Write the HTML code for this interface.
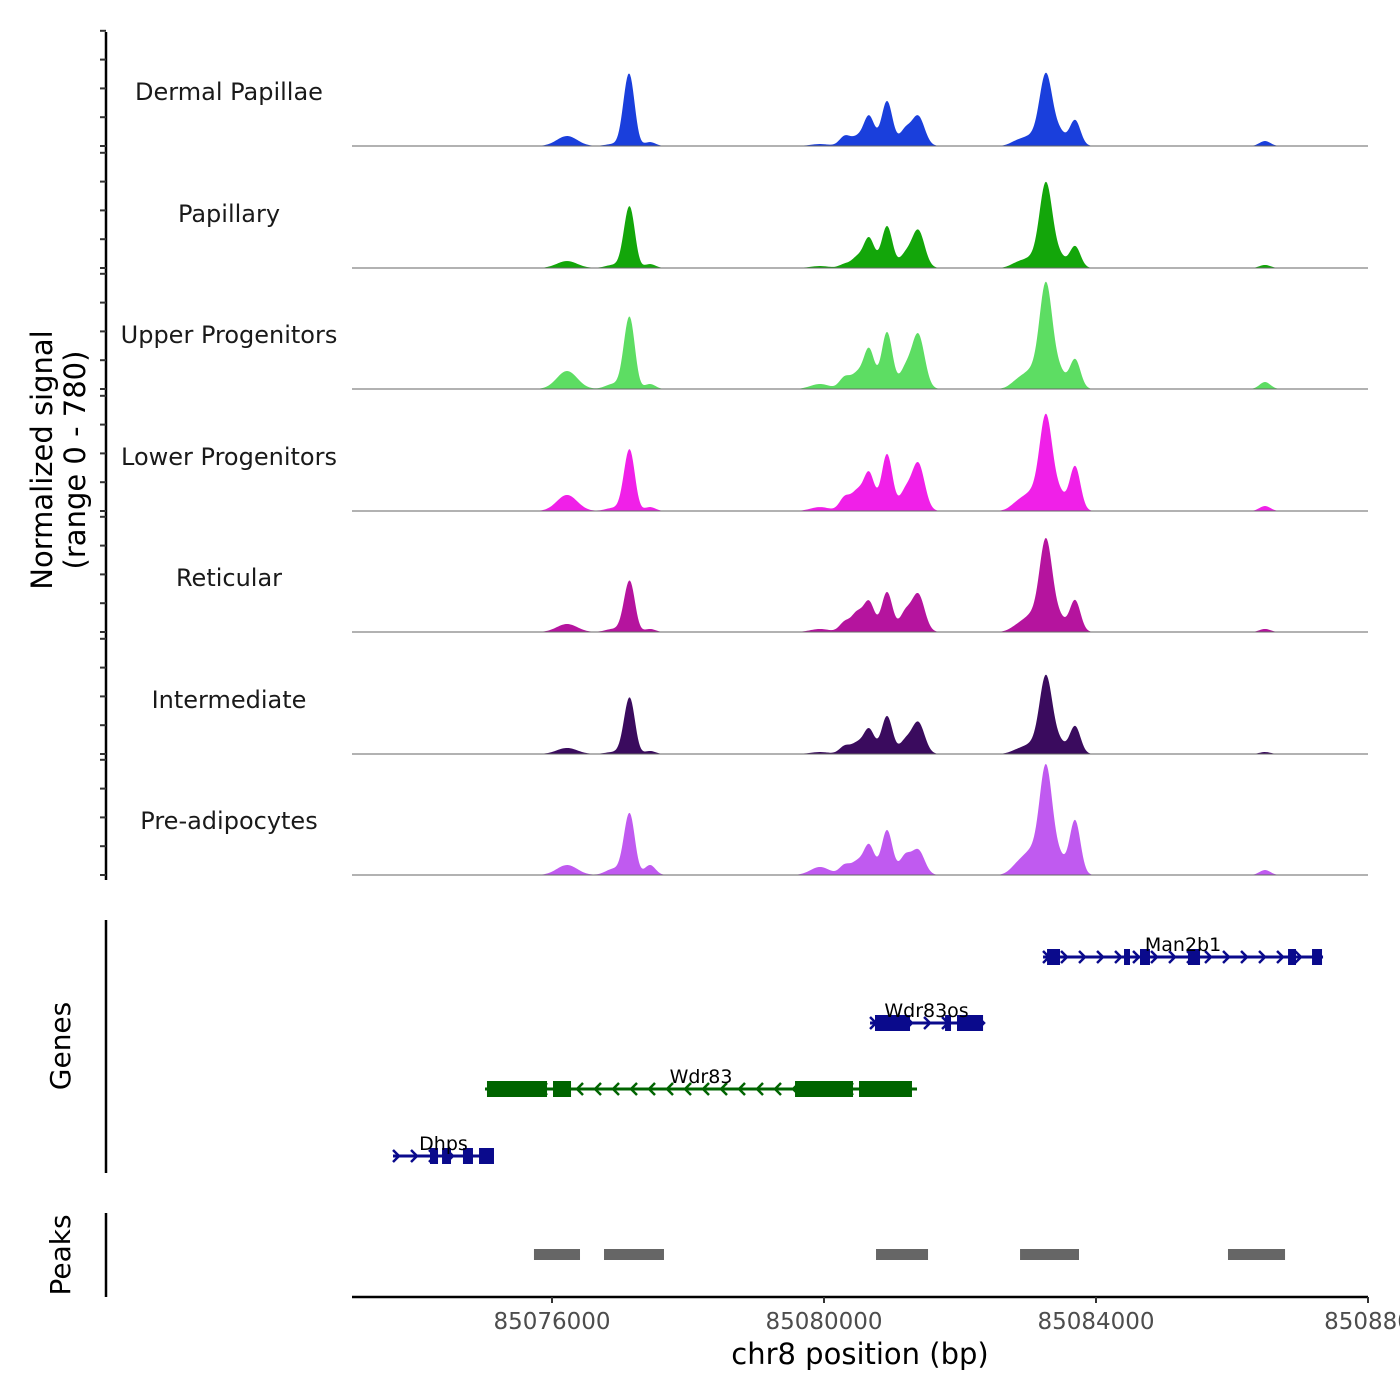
<!DOCTYPE html>
<html><head><meta charset="utf-8"><style>
html,body{margin:0;padding:0;background:#fff}
svg{display:block;font-family:"DejaVu Sans","Liberation Sans",sans-serif}
</style></head><body>
<svg id="chart" width="1400" height="1400" viewBox="0 0 1400 1400" xmlns="http://www.w3.org/2000/svg">
<g id="tracks"></g>
<g id="leftaxis"></g>
<g id="genes"></g>
<g id="peaks"></g>
<g id="xaxis"></g>
<text transform="translate(52,460) rotate(-90)" text-anchor="middle" font-size="29">Normalized signal</text>
<text transform="translate(85,460) rotate(-90)" text-anchor="middle" font-size="29">(range 0 - 780)</text>
<text transform="translate(70,1046) rotate(-90)" text-anchor="middle" font-size="28">Genes</text>
<text transform="translate(70,1255) rotate(-90)" text-anchor="middle" font-size="28">Peaks</text>
<text x="860" y="1364" text-anchor="middle" font-size="29">chr8 position (bp)</text>
</svg>
<script>
const trackNames = ["Dermal Papillae","Papillary","Upper Progenitors","Lower Progenitors","Reticular","Intermediate","Pre-adipocytes"];
const trackColors = ["#1a3fdc","#13a60a","#5ddd63","#f020e8","#b5149e","#3a0b5e","#c05af0"];
const peakPositions = [85076221,85076897,85077088,85077162,85077441,85079941,85080309,85080486,85080662,85080927,85081191,85081383,85082853,85083044,85083265,85083471,85083691,85086485];
const peakWidths = [150,110,70,70,80,140,80,80,80,80,80,95,110,110,95,80,80,80];
const sigDermal = [66,13,231,317,26,13,66,53,198,297,99,198,33,53,475,79,172,33];
const sigPapillary = [46,20,165,297,26,13,26,66,198,277,79,251,33,53,561,66,145,20];
const sigUpper = [119,33,198,343,33,33,79,92,264,376,119,363,53,99,693,99,198,46];
const sigLower = [106,20,165,297,26,26,92,119,251,376,119,317,53,99,627,99,297,33];
const sigReticular = [53,20,132,251,20,20,66,119,198,264,119,251,40,92,607,79,211,20];
const sigIntermediate = [40,13,145,277,20,13,53,66,165,251,79,211,26,53,515,66,185,13];
const sigPreadipo = [66,40,165,297,66,53,66,79,198,297,119,165,66,132,713,99,363,33];
const trackSignals = [sigDermal,sigPapillary,sigUpper,sigLower,sigReticular,sigIntermediate,sigPreadipo];
const xTicks = [85076000,85080000,85084000,85088000];
const xTickLabels = ["85076000","85080000","85084000","850880"];
const geneNames = ["Man2b1","Wdr83os","Wdr83","Dhps"];
const geneStrand = [1,1,-1,1];
const geneStart = [85083221,85080677,85075015,85073662];
const geneEnd = [85087339,85082339,85081368,85075147];
const geneExons = [
 [[85083280,85083471],[85084412,85084500],[85084647,85084794],[85085353,85085530],[85086824,85086941],[85087177,85087324]],
 [[85080750,85081265],[85081780,85081868],[85081956,85082339]],
 [[85075044,85075927],[85076015,85076280],[85079574,85080427],[85080515,85081294]],
 [[85074206,85074324],[85074383,85074515],[85074691,85074838],[85074927,85075147]]
];
const peakStart = [85075735,85076765,85080765,85082883,85085941];
const peakEnd = [85076412,85077647,85081530,85083750,85086780];

const NS="http://www.w3.org/2000/svg";
const X0=352,X1=1368,BP0=85073059,BP1=85088000;
const xs=b=>X0+(b-BP0)/(BP1-BP0)*(X1-X0);
const bs=x=>BP0+(x-X0)/(X1-X0)*(BP1-BP0);
const baselines=[146,268,389,511,632,754,875];
const ys=(v,b)=>b-v/780*118;
function el(t,a,p){const e=document.createElementNS(NS,t);for(const k in a)e.setAttribute(k,a[k]);p.appendChild(e);return e;}

const tracks=document.getElementById('tracks');
trackSignals.forEach((sig,i)=>{
  const b=baselines[i];
  let d=`M${X0},${b}`;
  for(let x=X0;x<=X1;x+=1){
    const bp=bs(x);let v=0;
    for(let j=0;j<peakPositions.length;j++){const z=(bp-peakPositions[j])/peakWidths[j];v+=sig[j]*Math.exp(-0.5*z*z);}
    d+=`L${x},${ys(v,b).toFixed(2)}`;
  }
  d+=`L${X1},${b}Z`;
  const p=el('path',{d:d,fill:trackColors[i]},tracks);
  
  
  const bl=el('line',{x1:X0,x2:X1,y1:b,y2:b,stroke:'#666','stroke-width':1},tracks);
  
  
  const t=el('text',{x:229,y:b-46,'text-anchor':'middle','font-size':24,fill:'#1a1a1a'},tracks);
  t.textContent=trackNames[i];
  
  
});

const la=document.getElementById('leftaxis');
el('line',{x1:106,x2:106,y1:32,y2:880,stroke:'#000','stroke-width':2.5},la);
baselines.forEach(b=>{for(let k=0;k<5;k++){const y=b-k*28.8;
  const tk=el('line',{x1:100,x2:106,y1:y,y2:y,stroke:'#333','stroke-width':2},la);
  
  }});

const g=document.getElementById('genes');
el('line',{x1:106,x2:106,y1:920,y2:1173,stroke:'#000','stroke-width':2.5},g);
const geneY=[957,1023,1089,1156];
geneNames.forEach((n,i)=>{
  const y=geneY[i],col=geneStrand[i]>0?'#0a0a8c':'#006400';
  const x1=xs(geneStart[i]),x2=xs(geneEnd[i]);
  el('line',{x1:x1,x2:x2,y1:y,y2:y,stroke:col,'stroke-width':3},g);
  for(let x=x1+4;x<x2;x+=18){const s=geneStrand[i];
    el('path',{d:`M${x-4*s},${y-6}L${x+2*s},${y}L${x-4*s},${y+6}`,fill:'none',stroke:col,'stroke-width':2.5},g);}
  geneExons[i].forEach(e=>{
    const r=el('rect',{x:xs(e[0]),y:y-8,width:xs(e[1])-xs(e[0]),height:16,fill:col},g);
    
    
  });
  const t=el('text',{x:(x1+x2)/2,y:y-6,'text-anchor':'middle','font-size':19,fill:'#000'},g);
  t.textContent=n;
  
  
});

const pk=document.getElementById('peaks');
el('line',{x1:106,x2:106,y1:1213,y2:1297,stroke:'#000','stroke-width':2.5},pk);
peakStart.forEach((s,i)=>{
  const r=el('rect',{x:xs(s),y:1249,width:xs(peakEnd[i])-xs(s),height:11,fill:'#666'},pk);
  
  
});

const xa=document.getElementById('xaxis');
el('line',{x1:X0,x2:X1,y1:1297,y2:1297,stroke:'#000','stroke-width':2.5},xa);
xTicks.forEach((v,i)=>{const x=xs(v);
  el('line',{x1:x,x2:x,y1:1297,y2:1303,stroke:'#333','stroke-width':2},xa);
  const t=el('text',{x:x,y:1329,'text-anchor':'middle','font-size':23,fill:'#4d4d4d'},xa);
  t.textContent=xTickLabels[i];
  
  
});
</script>
</body></html>
